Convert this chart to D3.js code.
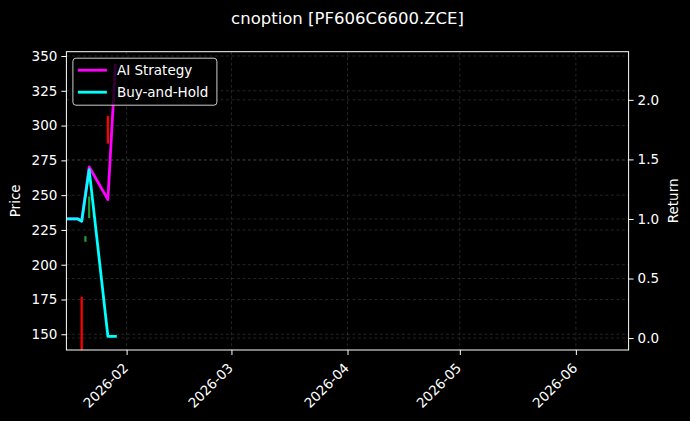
<!DOCTYPE html>
<meta charset="utf-8">
<style>
  body { margin: 0; background: #000; }
  text { font-family: "DejaVu Sans", sans-serif; fill: #fff; }
  .grid line { stroke: #666; stroke-opacity: 0.6; stroke-width: 0.6; stroke-dasharray: 3,2.5; }
</style>
<script src="https://d3js.org/d3.v7.min.js"></script>
<body>
<div id="chart"></div>
<script>
  // 数据
  let lineDates = ["2026-01-16", "2026-01-19", "2026-01-20", "2026-01-22", "2026-01-27", "2026-01-29"];
  let aiReturn = [1.0, 1.0, 0.985, 1.437, 1.163, 2.29];
  let bhReturn = [1.0, 1.0, 0.98, 1.414, 0.014, 0.014];

  let candleDates = ["2026-01-20", "2026-01-21", "2026-01-22", "2026-01-27"];
  let candleOpen = [177, 216.5, 233.5, 307];
  let candleClose = [120, 220.5, 249, 287];

  let priceTicks = [150, 175, 200, 225, 250, 275, 300, 325, 350];
  let returnTicks = [0.0, 0.5, 1.0, 1.5, 2.0];

  let W = 690, H = 421;
  let margin = {top: 51.7, right: 61.4, bottom: 71, left: 66.4};
  let width = W - margin.left - margin.right,
      height = H - margin.top - margin.bottom;

  let svg = d3.select("#chart").append("svg")
    .attr("width", W).attr("height", H)
    .style("background", "#000");

  let parse = d3.utcParse("%Y-%m-%d");

  let x = d3.scaleUtc()
    .domain([new Date(Date.UTC(2026, 0, 15, 22)), new Date(Date.UTC(2026, 5, 15, 2))])
    .range([0, width]);
  let yPrice = d3.scaleLinear().domain([138.7, 353.1]).range([height, 0]);
  let yRet = d3.scaleLinear().domain([-0.1, 2.404]).range([height, 0]);

  let g = svg.append("g").attr("transform", `translate(${margin.left},${margin.top})`);

  g.append("clipPath").attr("id", "clip")
    .append("rect").attr("width", width).attr("height", height);

  let monthTicks = d3.utcMonth.range(new Date(Date.UTC(2026, 1, 1)), new Date(Date.UTC(2026, 5, 2)));

  // 网格线
  let grid = g.append("g").attr("class", "grid");
  grid.selectAll(".gx").data(monthTicks).join("line")
    .attr("x1", d => x(d)).attr("x2", d => x(d)).attr("y1", 0).attr("y2", height);
  grid.selectAll(".gp").data(priceTicks).join("line")
    .attr("x1", 0).attr("x2", width).attr("y1", d => yPrice(d)).attr("y2", d => yPrice(d));
  grid.selectAll(".gr").data(returnTicks).join("line")
    .attr("x1", 0).attr("x2", width).attr("y1", d => yRet(d)).attr("y2", d => yRet(d));

  let plot = g.append("g").attr("clip-path", "url(#clip)");

  // K线柱
  let barW = x(parse("2026-01-21")) - x(parse("2026-01-20"));
  plot.selectAll(".candle").data(candleDates).join("rect")
    .attr("x", (d, i) => x(parse(d)) - barW * 0.3)
    .attr("width", barW * 0.6)
    .attr("y", (d, i) => yPrice(Math.max(candleOpen[i], candleClose[i])))
    .attr("height", (d, i) => Math.abs(yPrice(candleOpen[i]) - yPrice(candleClose[i])))
    .attr("fill", (d, i) => candleClose[i] >= candleOpen[i] ? "#1f9e3a" : "#ff0000");

  // 收益曲线
  let line = d3.line().x(d => x(parse(d[0]))).y(d => yRet(d[1]));
  let series = [
    {name: "AI Strategy", color: "#ff00ff", values: aiReturn},
    {name: "Buy-and-Hold", color: "#00ffff", values: bhReturn}
  ];
  plot.selectAll(".ret").data(series).join("path")
    .attr("fill", "none")
    .attr("stroke", d => d.color)
    .attr("stroke-width", 2.8)
    .attr("stroke-linejoin", "round")
    .attr("stroke-linecap", "square")
    .attr("d", d => line(lineDates.map((t, i) => [t, d.values[i]])));

  // 坐标轴
  let xAxis = g.append("g").attr("transform", `translate(0,${height})`)
    .call(d3.axisBottom(x).tickValues(monthTicks).tickFormat(d3.utcFormat("%Y-%m")).tickSize(5).tickPadding(4));
  xAxis.selectAll("text")
    .attr("font-size", 13.5)
    .attr("text-anchor", "end")
    .attr("x", 0).attr("y", 0)
    .attr("dx", 0).attr("dy", "0.35em")
    .attr("transform", "translate(-1.5,15.5) rotate(-45)");

  let yAxisL = g.append("g")
    .call(d3.axisLeft(yPrice).tickValues(priceTicks).tickSize(5).tickPadding(4));
  yAxisL.selectAll("text").attr("font-size", 13.5);

  let yAxisR = g.append("g").attr("transform", `translate(${width},0)`)
    .call(d3.axisRight(yRet).tickValues(returnTicks).tickFormat(d3.format(".1f")).tickSize(5).tickPadding(4));
  yAxisR.selectAll("text").attr("font-size", 13.5);

  [xAxis, yAxisL, yAxisR].forEach(a => {
    a.select(".domain").remove();
    a.selectAll(".tick line").attr("stroke", "#fff");
    a.selectAll("text").attr("fill", "#fff");
  });

  // 边框
  g.append("rect").attr("width", width).attr("height", height)
    .attr("fill", "none").attr("stroke", "#fff").attr("stroke-width", 1);

  // 标签
  svg.append("text").attr("x", margin.left + width / 2).attr("y", 24)
    .attr("text-anchor", "middle").attr("font-size", 16.5)
    .text("cnoption [PF606C6600.ZCE]");
  svg.append("text")
    .attr("transform", `translate(20,${margin.top + height / 2}) rotate(-90)`)
    .attr("text-anchor", "middle").attr("font-size", 13.5).text("Price");
  svg.append("text")
    .attr("transform", `translate(678,${margin.top + height / 2}) rotate(-90)`)
    .attr("text-anchor", "middle").attr("font-size", 13.5).text("Return");

  // 图例
  let legend = g.append("g").attr("transform", "translate(6.5,6.5)");
  legend.append("rect").attr("width", 144).attr("height", 47).attr("rx", 3)
    .attr("fill", "#000").attr("fill-opacity", 0.8)
    .attr("stroke", "#ccc").attr("stroke-width", 1);
  series.forEach((s, i) => {
    legend.append("line").attr("x1", 5).attr("x2", 34)
      .attr("y1", 12 + i * 22).attr("y2", 12 + i * 22)
      .attr("stroke", s.color).attr("stroke-width", 2.8);
    legend.append("text").attr("x", 44).attr("y", 12 + i * 22)
      .attr("dy", "0.35em").attr("font-size", 13.5).text(s.name);
  });
</script>
</body>
